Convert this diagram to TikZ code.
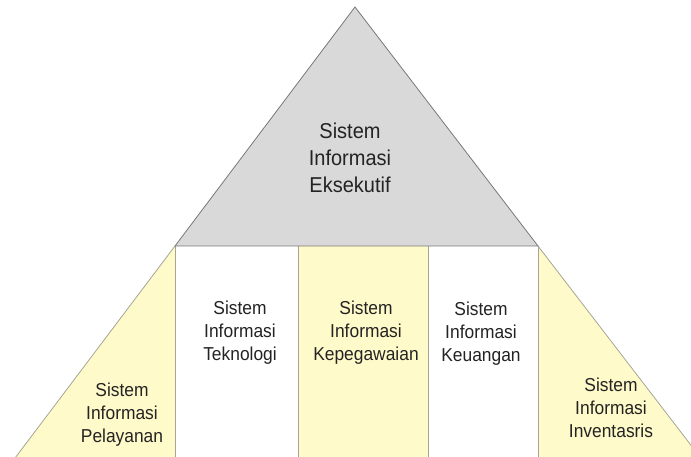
\documentclass[tikz,border=0pt]{standalone}
\usepackage{fontspec}
\setmainfont{Liberation Sans}
\newfontfamily\narrowsans[FakeStretch=0.93]{Liberation Sans}
\usetikzlibrary{positioning}
\definecolor{topgrey}{RGB}{217,217,217}
\definecolor{edgegrey}{RGB}{120,120,120}
\definecolor{softyellow}{RGB}{255,250,201}
\definecolor{linegrey}{RGB}{165,165,150}
\definecolor{textdark}{RGB}{35,35,35}
\begin{document}
\begin{tikzpicture}[x=1pt,y=-1pt,line width=0.8pt,
  bigtext/.style={align=center,text=textdark,font=\narrowsans\fontsize{21.5}{27}\selectfont},
  smalltext/.style={align=center,text=textdark,font=\narrowsans\fontsize{18.7}{23}\selectfont}]
\useasboundingbox (0,0) rectangle (691,457);
\clip (0,0) rectangle (691,457);
% corner points
\coordinate (apex) at (355,7);
\coordinate (bl) at (175,246);
\coordinate (br) at (538,246);
\coordinate (d1) at (298,246);
\coordinate (d2) at (428,246);
\coordinate (fl) at (6,470);
\coordinate (fr) at (710,470);
% base strip: yellow and white columns
\fill[softyellow] (fl) -- (bl) -- (175,470) -- cycle;
\fill[white] (bl) rectangle (298,470);
\fill[softyellow] (d1) rectangle (428,470);
\fill[white] (d2) rectangle (538,470);
\fill[softyellow] (br) -- (fr) -- (538,470) -- cycle;
\draw[linegrey] (bl) -- (fl);
\draw[linegrey] (br) -- (fr);
\draw[linegrey] (bl) -- (175,470);
\draw[linegrey] (d1) -- (298,470);
\draw[linegrey] (d2) -- (428,470);
\draw[linegrey] (br) -- (538,470);
% top: executive triangle
\filldraw[fill=topgrey,draw=edgegrey] (apex) -- (bl) -- (br) -- cycle;
% texts
\node[bigtext] (exec) at (350,158) {Sistem\\Informasi\\Eksekutif};
\node[smalltext] (layan) at (122,415) {Sistem\\Informasi\\Pelayanan};
\node[smalltext] (tekno) at (240,333) {Sistem\\Informasi\\Teknologi};
\node[smalltext] (pegawai) at (366,333) {Sistem\\Informasi\\Kepegawaian};
\node[smalltext] (uang) at (481,334) {Sistem\\Informasi\\Keuangan};
\node[smalltext] (inven) at (611,408) {Sistem\\Informasi\\Inventasris};
\end{tikzpicture}
\end{document}
